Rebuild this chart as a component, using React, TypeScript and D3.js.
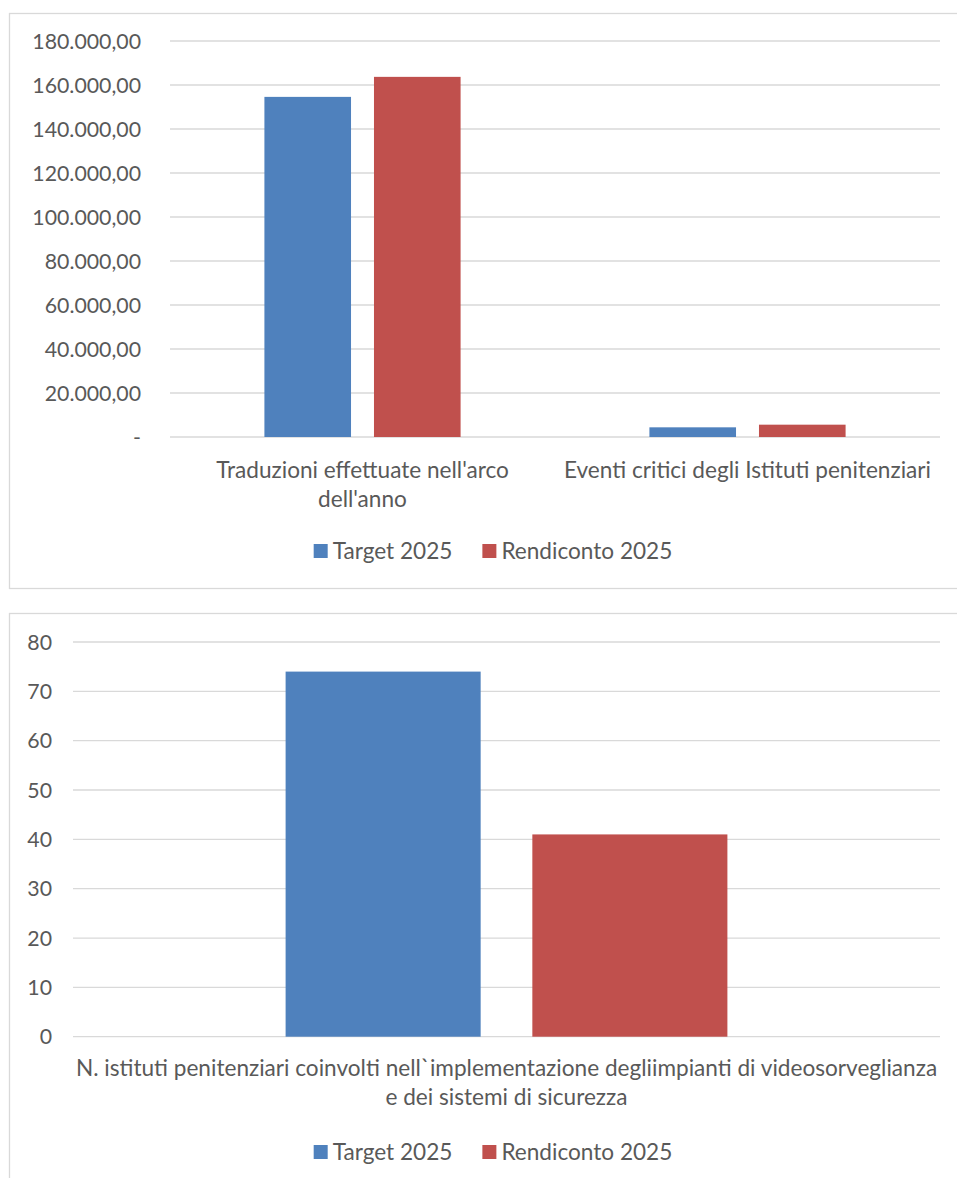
import React, { useEffect, useRef } from 'react';
import * as d3 from 'd3';

// Series names and colours
const seriesNames = ['Target 2025', 'Rendiconto 2025'];
const seriesColors = ['#4f81bd', '#c0504d'];

// Top chart
const topCategories = ['traduzioni', 'eventi'];
const topCategoryLabels = [
    ["Traduzioni effettuate nell'arco", "dell'anno"],
    ['Eventi critici degli Istituti penitenziari'],
];
const topTarget = [154600, 4400];
const topRendiconto = [163700, 5600];
const topTicks = [0, 20000, 40000, 60000, 80000, 100000, 120000, 140000, 160000, 180000];

// Bottom chart
const bottomCategories = ['istituti'];
const bottomCategoryLabels = [
    ['N. istituti penitenziari coinvolti nell`implementazione degliimpianti di videosorveglianza', 'e dei sistemi di sicurezza'],
];
const bottomTarget = [74];
const bottomRendiconto = [41];
const bottomTicks = [0, 10, 20, 30, 40, 50, 60, 70, 80];

const FONT = 'Lato, "Open Sans", sans-serif';
const TEXT = '#595959';
const GRID = '#d9d9d9';
const TICK_SIZE = '21.3px';
const LABEL_SIZE = '22.6px';

const itFormat = (v: number) => {
    if (v === 0) return '-';
    const s = d3.format(',.2f')(v);
    return s.replace(/,/g, '#').replace('.', ',').replace(/#/g, '.');
};

interface ChartOpts {
    box: { x: number; y: number; w: number; h: number };
    plot: { left: number; right: number; top: number; bottom: number };
    categories: string[];
    labels: string[][];
    series: number[][];
    ticks: number[];
    max: number;
    tickFormat: (v: number) => string;
    tickRight: number;
    labelY: number;
    legendY: number;
    legendCenter: number;
}

const drawChart = (svg: d3.Selection<SVGSVGElement, unknown, null, undefined>, o: ChartOpts) => {
    const g = svg.append('g');

    g.append('rect')
        .attr('x', o.box.x)
        .attr('y', o.box.y)
        .attr('width', o.box.w)
        .attr('height', o.box.h)
        .attr('fill', 'white')
        .attr('stroke', GRID)
        .attr('stroke-width', 1.3);

    const y = d3.scaleLinear().domain([0, o.max]).range([o.plot.bottom, o.plot.top]);
    const x0 = d3.scaleBand().domain(o.categories).range([o.plot.left, o.plot.right]).padding(0);

    // gridlines + tick labels
    o.ticks.forEach(t => {
        g.append('line')
            .attr('x1', o.plot.left)
            .attr('x2', o.plot.right)
            .attr('y1', y(t))
            .attr('y2', y(t))
            .attr('stroke', GRID)
            .attr('stroke-width', 1.3);
        g.append('text')
            .attr('x', o.tickRight)
            .attr('y', y(t))
            .attr('dy', '0.36em')
            .attr('text-anchor', 'end')
            .style('font-family', FONT)
            .style('font-size', TICK_SIZE)
            .style('fill', TEXT)
            .text(o.tickFormat(t));
    });

    // bars: gap width ~219%, overlap -27%
    const bw = x0.bandwidth() / (2 + 0.265 + 2.18);
    const gap = bw * 0.265;
    o.categories.forEach((c, ci) => {
        const center = (x0(c) || 0) + x0.bandwidth() / 2;
        const start = center - (2 * bw + gap) / 2;
        o.series.forEach((s, si) => {
            g.append('rect')
                .attr('x', start + si * (bw + gap))
                .attr('y', y(s[ci]))
                .attr('width', bw)
                .attr('height', y(0) - y(s[ci]))
                .attr('fill', seriesColors[si]);
        });
        o.labels[ci].forEach((line, li) => {
            g.append('text')
                .attr('x', center)
                .attr('y', o.labelY + li * 29)
                .attr('dy', '0.36em')
                .attr('text-anchor', 'middle')
                .style('font-family', FONT)
                .style('font-size', LABEL_SIZE)
                .style('fill', TEXT)
                .text(line);
        });
    });

    // legend
    const legend = g.append('g');
    let cx = 0;
    seriesNames.forEach((name, i) => {
        const item = legend.append('g').attr('transform', `translate(${cx},0)`);
        item.append('rect')
            .attr('x', 0)
            .attr('y', o.legendY - 7)
            .attr('width', 14)
            .attr('height', 14)
            .attr('fill', seriesColors[i]);
        const t = item.append('text')
            .attr('x', 19)
            .attr('y', o.legendY)
            .attr('dy', '0.36em')
            .style('font-family', FONT)
            .style('font-size', LABEL_SIZE)
            .style('fill', TEXT)
            .text(name);
        const w = (t.node() as SVGTextElement).getComputedTextLength();
        cx += 19 + w + 30;
    });
    const total = cx - 30;
    legend.attr('transform', `translate(${o.legendCenter - total / 2},0)`);
};

const App: React.FC = () => {
    const ref = useRef<SVGSVGElement>(null);

    useEffect(() => {
        if (!ref.current) return;
        const svg = d3.select(ref.current);
        svg.selectAll('*').remove();

        drawChart(svg, {
            box: { x: 9.5, y: 13.5, w: 967, h: 575 },
            plot: { left: 170, right: 940, top: 41, bottom: 437 },
            categories: topCategories,
            labels: topCategoryLabels,
            series: [topTarget, topRendiconto],
            ticks: topTicks,
            max: 180000,
            tickFormat: itFormat,
            tickRight: 141,
            labelY: 470,
            legendY: 551,
            legendCenter: 493,
        });

        drawChart(svg, {
            box: { x: 9.5, y: 613.5, w: 967, h: 600 },
            plot: { left: 73, right: 940, top: 642, bottom: 1036.7 },
            categories: bottomCategories,
            labels: bottomCategoryLabels,
            series: [bottomTarget, bottomRendiconto],
            ticks: bottomTicks,
            max: 80,
            tickFormat: (v: number) => String(v),
            tickRight: 52,
            labelY: 1068,
            legendY: 1152,
            legendCenter: 493,
        });
    }, []);

    return (
        <svg
            ref={ref}
            width={957}
            height={1178}
            style={{ position: 'absolute', left: 0, top: 0, background: 'white' }}
        />
    );
};

export default App;
